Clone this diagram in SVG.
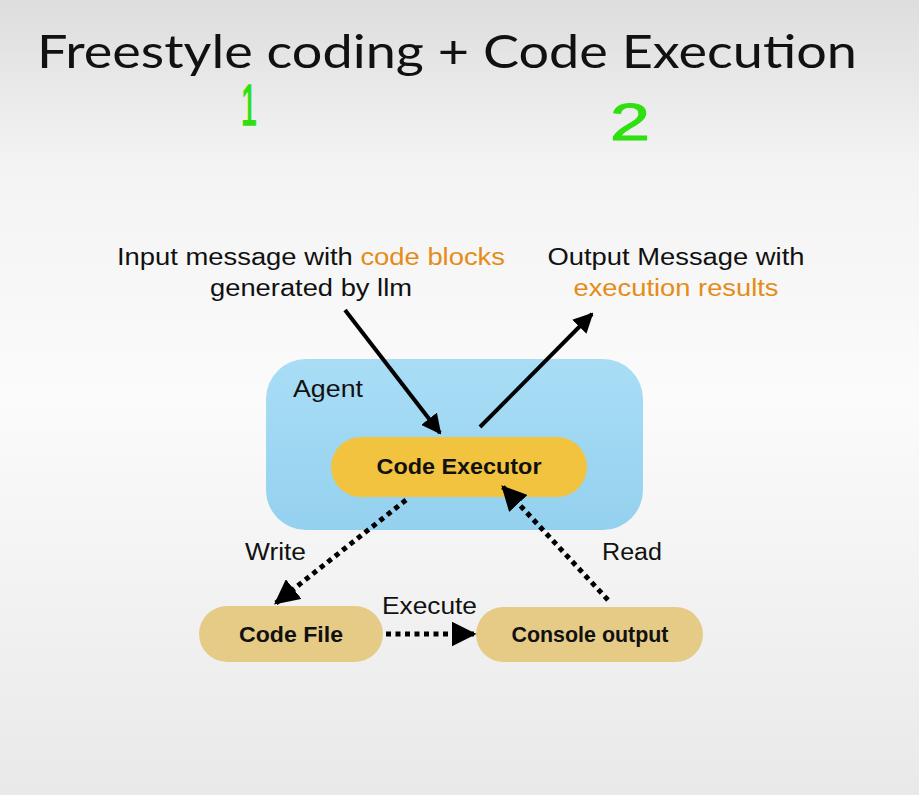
<svg xmlns="http://www.w3.org/2000/svg" width="919" height="795" viewBox="0 0 919 795">
<defs>
<linearGradient id="bg" x1="0" y1="0" x2="0" y2="1">
<stop offset="0" stop-color="#dddddd"/>
<stop offset="0.2" stop-color="#f3f3f3"/>
<stop offset="0.5" stop-color="#fbfbfb"/>
<stop offset="1" stop-color="#e9e9e9"/>
</linearGradient>
<linearGradient id="agentg" x1="0" y1="0" x2="0" y2="1">
<stop offset="0" stop-color="#a9ddf6"/>
<stop offset="1" stop-color="#94d1ee"/>
</linearGradient>
<marker id="ah" viewBox="0 0 10 10" refX="9" refY="5" markerWidth="5" markerHeight="5" orient="auto" markerUnits="strokeWidth">
<path d="M0,0 L10,5 L0,10 z" fill="#000"/>
</marker>
<marker id="ahd" viewBox="0 0 10 10" refX="9" refY="5" markerWidth="5" markerHeight="5" orient="auto" markerUnits="strokeWidth">
<path d="M0,0 L10,5 L0,10 z" fill="#000"/>
</marker>
</defs>
<style>
.t{font-family:"Liberation Sans","Helvetica",Arial,sans-serif;fill:#111}
.lbl{font-size:23px}
.nb{font-weight:bold;font-size:22px;text-anchor:middle}
.or{fill:#e58c17}
.solid{stroke:#000;stroke-width:4;fill:none;marker-end:url(#ah)}
.dot{stroke:#000;stroke-width:5;fill:none;stroke-dasharray:5 4.5;marker-end:url(#ahd)}
.grn{font-family:"Liberation Sans",sans-serif;fill:#2ee010;stroke:#2ee010}
</style>
<rect x="0" y="0" width="919" height="795" fill="url(#bg)"/>
<text x="37" y="68" font-family="Lato,'Open Sans',sans-serif" font-size="47" fill="#111" textLength="820" lengthAdjust="spacingAndGlyphs">Freestyle coding + Code Execution</text>
<text class="grn" x="249" y="125" font-size="58" stroke-width="1.5" text-anchor="middle" textLength="16" lengthAdjust="spacingAndGlyphs">1</text>
<text class="grn" x="630" y="140" font-size="52" stroke-width="1" text-anchor="middle" textLength="40" lengthAdjust="spacingAndGlyphs">2</text>

<g id="agent">
<rect x="266" y="359" width="377" height="171" rx="40" fill="url(#agentg)"/>
<text class="t lbl" x="293" y="397" textLength="70" lengthAdjust="spacingAndGlyphs">Agent</text>
</g>
<g id="code-executor">
<rect x="331" y="437" width="256" height="60" rx="30" fill="#f2c33e"/>
<text class="t nb" x="459" y="474" textLength="165" lengthAdjust="spacingAndGlyphs">Code Executor</text>
</g>
<g id="code-file">
<rect x="199" y="606" width="184" height="56" rx="28" fill="#e6cb87"/>
<text class="t nb" x="291" y="642" textLength="104" lengthAdjust="spacingAndGlyphs">Code File</text>
</g>
<g id="console-output">
<rect x="476" y="607" width="227" height="55" rx="27.5" fill="#e6cb87"/>
<text class="t nb" x="590" y="642" font-size="20" textLength="157" lengthAdjust="spacingAndGlyphs">Console output</text>
</g>
<g id="input-label">
<text class="t lbl" x="311" y="265" text-anchor="middle" textLength="388" lengthAdjust="spacingAndGlyphs">Input message with <tspan class="or">code blocks</tspan></text>
<text class="t lbl" x="311" y="296" text-anchor="middle" textLength="202" lengthAdjust="spacingAndGlyphs">generated by llm</text>
</g>
<g id="output-label">
<text class="t lbl" x="676" y="265" text-anchor="middle" textLength="257" lengthAdjust="spacingAndGlyphs">Output Message with</text>
<text class="t lbl or" x="676" y="296" text-anchor="middle" textLength="205" lengthAdjust="spacingAndGlyphs">execution results</text>
</g>
<g id="connectors">
<line class="solid" x1="345" y1="310" x2="440" y2="433"/>
<line class="solid" x1="480" y1="427" x2="592" y2="314"/>
<line class="dot" x1="406" y1="500" x2="276" y2="603"/>
<line class="dot" x1="608" y1="600" x2="503" y2="487"/>
<line class="dot" x1="386" y1="634" x2="474" y2="634"/>
<text class="t lbl" x="245" y="560" textLength="61" lengthAdjust="spacingAndGlyphs">Write</text>
<text class="t lbl" x="602" y="560" textLength="60" lengthAdjust="spacingAndGlyphs">Read</text>
<text class="t lbl" x="382" y="614" textLength="95" lengthAdjust="spacingAndGlyphs">Execute</text>
</g>
</svg>
